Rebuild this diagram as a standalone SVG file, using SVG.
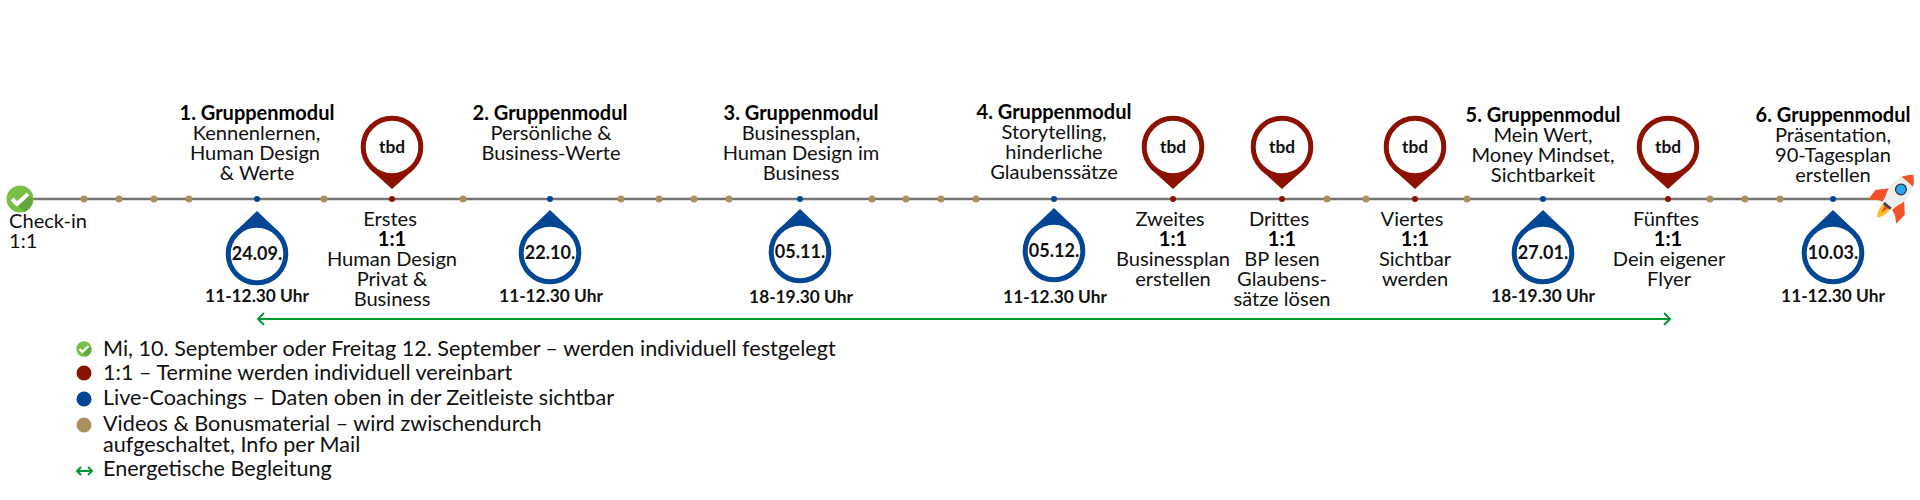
<svg xmlns="http://www.w3.org/2000/svg" width="1920" height="500" viewBox="0 0 1920 500">
<style>
text{font-family:Lato,"Noto Sans",sans-serif;font-size:20.1px;font-weight:400;fill:#111;text-anchor:middle}
.b{font-size:20px;font-weight:700;fill:#000}
.t{font-size:17.3px;font-weight:700;fill:#111}
.d{font-size:18px;font-weight:700;fill:#111}
.l{text-anchor:start;font-size:21.6px}
.c{text-anchor:start}
.tan{fill:#ab8f5f}.red{fill:#8c1100}.blue{fill:#034694}
.pr{fill:#fff;stroke:#8c1100;stroke-width:5}
.pb{fill:#fff;stroke:#034694;stroke-width:5}
.g{stroke:#009933;stroke-width:2;fill:none}
</style>
<defs>
<g id="pinr"><path class="red" d="M-21 23L0 42L21 23Z"/><circle class="pr" r="28.8"/></g>
<g id="pinb"><path class="blue" d="M-21-23L0-43L21-23Z"/><circle class="pb" r="28.8"/></g>
<g id="chk"><circle r="13.5" fill="#78c043"/><path d="M-8 1L-3 6L8-5L13 0A13.5 13.5 0 0 1 4 13Z" fill="#62a83b"/><path d="M-8 0L-3 5L8-5" fill="none" stroke="#fff" stroke-width="4"/></g>
</defs>
<g id="connectors">
<path d="M20 199H1880" stroke="#757575" stroke-width="2.5" fill="none"/>
<path class="g" d="M258 319H1670M264 313L258 319L264 325M1664 313L1670 319L1664 325"/>
</g>
<g id="dots-tan" class="tan">
<circle cx="84" cy="199" r="3.5"/><circle cx="119" cy="199" r="3.5"/><circle cx="154" cy="199" r="3.5"/><circle cx="189" cy="199" r="3.5"/><circle cx="324" cy="199" r="3.5"/><circle cx="463" cy="199" r="3.5"/><circle cx="621" cy="199" r="3.5"/><circle cx="659" cy="199" r="3.5"/><circle cx="694" cy="199" r="3.5"/><circle cx="729" cy="199" r="3.5"/><circle cx="872" cy="199" r="3.5"/><circle cx="906" cy="199" r="3.5"/><circle cx="941" cy="199" r="3.5"/><circle cx="976" cy="199" r="3.5"/><circle cx="1327" cy="199" r="3.5"/><circle cx="1366" cy="199" r="3.5"/><circle cx="1467" cy="199" r="3.5"/><circle cx="1710" cy="199" r="3.5"/><circle cx="1745" cy="199" r="3.5"/><circle cx="1780" cy="199" r="3.5"/>
</g>
<g id="checkin"><use href="#chk" x="20" y="199"/><text class="c" x="9" y="227.5">Check-in</text><text class="c" x="9" y="247.5">1:1</text></g>
<g id="gm1"><circle class="blue" cx="257" cy="199" r="3"/><text class="b" x="257" y="119.5">1. Gruppenmodul</text><text x="256.5" y="139.5">Kennenlernen,</text><text x="255" y="159.5">Human Design</text><text x="257" y="179.5">&amp; Werte</text><use href="#pinb" x="257" y="254"/><text class="d" x="257" y="260">24.09.</text><text class="t" x="257" y="302">11-12.30 Uhr</text></g>
<g id="eins1"><circle class="red" cx="392" cy="199" r="3"/><use href="#pinr" x="392" y="147"/><text class="t" x="392" y="153">tbd</text><text x="390" y="226">Erstes</text><text class="b" x="392" y="246">1:1</text><text x="392" y="266">Human Design</text><text x="392" y="286">Privat &amp;</text><text x="392" y="306">Business</text></g>
<g id="gm2"><circle class="blue" cx="550" cy="199" r="3"/><text class="b" x="550" y="119.5">2. Gruppenmodul</text><text x="551" y="139.5">Persönliche &amp;</text><text x="551" y="159.5">Business-Werte</text><use href="#pinb" x="550" y="253"/><text class="d" x="550" y="259">22.10.</text><text class="t" x="551" y="302">11-12.30 Uhr</text></g>
<g id="gm3"><circle class="blue" cx="800" cy="199" r="3"/><text class="b" x="801" y="119.5">3. Gruppenmodul</text><text x="801" y="139.5">Businessplan,</text><text x="801" y="159.5">Human Design im</text><text x="801" y="179.5">Business</text><use href="#pinb" x="800" y="252"/><text class="d" x="800" y="258">05.11.</text><text class="t" x="801" y="303">18-19.30 Uhr</text></g>
<g id="gm4"><circle class="blue" cx="1054" cy="199" r="3"/><text class="b" x="1054" y="118.5">4. Gruppenmodul</text><text x="1054" y="138.5">Storytelling,</text><text x="1054" y="158.5">hinderliche</text><text x="1054" y="178.5">Glaubenssätze</text><use href="#pinb" x="1054" y="251"/><text class="d" x="1054" y="257">05.12.</text><text class="t" x="1055" y="303">11-12.30 Uhr</text></g>
<g id="eins2"><circle class="red" cx="1173" cy="199" r="3"/><use href="#pinr" x="1173" y="147"/><text class="t" x="1173" y="153">tbd</text><text x="1170" y="226">Zweites</text><text class="b" x="1173" y="246">1:1</text><text x="1173" y="266">Businessplan</text><text x="1173" y="286">erstellen</text></g>
<g id="eins3"><circle class="red" cx="1282" cy="199" r="3"/><use href="#pinr" x="1282" y="147"/><text class="t" x="1282" y="153">tbd</text><text x="1279" y="226">Drittes</text><text class="b" x="1282" y="246">1:1</text><text x="1282" y="266">BP lesen</text><text x="1282" y="286">Glaubens-</text><text x="1282" y="306">sätze lösen</text></g>
<g id="eins4"><circle class="red" cx="1415" cy="199" r="3"/><use href="#pinr" x="1415" y="147"/><text class="t" x="1415" y="153">tbd</text><text x="1412" y="226">Viertes</text><text class="b" x="1415" y="246">1:1</text><text x="1415" y="266">Sichtbar</text><text x="1415" y="286">werden</text></g>
<g id="gm5"><circle class="blue" cx="1543" cy="199" r="3"/><text class="b" x="1543" y="122">5. Gruppenmodul</text><text x="1543" y="142">Mein Wert,</text><text x="1543" y="162">Money Mindset,</text><text x="1543" y="182">Sichtbarkeit</text><use href="#pinb" x="1543" y="253"/><text class="d" x="1543" y="259">27.01.</text><text class="t" x="1543" y="302">18-19.30 Uhr</text></g>
<g id="eins5"><circle class="red" cx="1668" cy="199" r="3"/><use href="#pinr" x="1668" y="147"/><text class="t" x="1668" y="153">tbd</text><text x="1666" y="226">Fünftes</text><text class="b" x="1668" y="246">1:1</text><text x="1669" y="266">Dein eigener</text><text x="1669" y="286">Flyer</text></g>
<g id="gm6"><circle class="blue" cx="1833" cy="199" r="3"/><text class="b" x="1833" y="122">6. Gruppenmodul</text><text x="1833" y="142">Präsentation,</text><text x="1833" y="162">90-Tagesplan</text><text x="1833" y="182">erstellen</text><use href="#pinb" x="1833" y="253"/><text class="d" x="1833" y="259">10.03.</text><text class="t" x="1833" y="302">11-12.30 Uhr</text></g>
<g id="rocket" transform="translate(1898,193) rotate(40) scale(.77)">
<path d="M-8 22L-12 2L-25 16L-24 32Q-14 22-8 22Z" fill="#f4522b"/><path d="M8 22L12 2L25 16L24 32Q14 22 8 22Z" fill="#f4522b"/>
<path d="M-6 23Q-6 36 0 42Q6 36 6 23Z" fill="#fbbc2c"/><path d="M-3 23L0 34L3 23Z" fill="#f4522b"/>
<path d="M0-31Q-18-14-12 8L-6 21H6L12 8Q18-14 0-31Z" fill="#eeeeee"/>
<path d="M0-31Q-6-26-10-19H10Q6-26 0-31Z" fill="#f4522b"/>
<rect x="-6" y="20" width="12" height="3.5" fill="#444"/>
<circle cx="0" cy="-6" r="7" fill="#2aa7f0" stroke="#333" stroke-width="1.6"/>
</g>
<g id="legend">
<use href="#chk" transform="translate(84,349) scale(.57)"/><text class="l" x="103" y="355.5">Mi, 10. September oder Freitag 12. September – werden individuell festgelegt</text>
<circle class="red" cx="84" cy="373" r="7.5"/><text class="l" x="103" y="379.5">1:1 – Termine werden individuell vereinbart</text>
<circle class="blue" cx="84" cy="399" r="7.5"/><text class="l" x="103" y="405">Live-Coachings – Daten oben in der Zeitleiste sichtbar</text>
<circle class="tan" cx="84" cy="425" r="7.5"/><text class="l" x="103" y="430.5">Videos &amp; Bonusmaterial – wird zwischendurch</text><text class="l" x="103" y="452">aufgeschaltet, Info per Mail</text>
<path class="g" d="M77 471H92M81 467L77 471L81 475M88 467L92 471L88 475"/><text class="l" x="103" y="476">Energetische Begleitung</text>
</g>
</svg>
